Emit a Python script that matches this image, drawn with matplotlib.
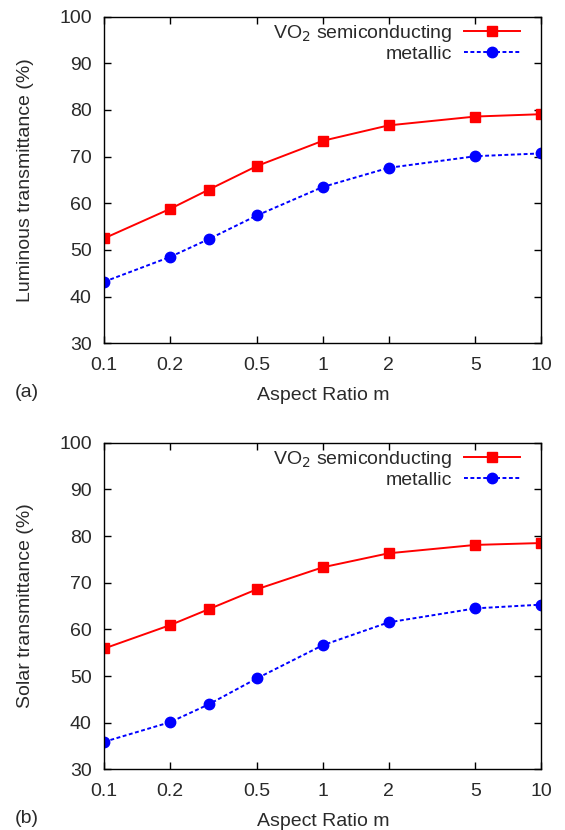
import numpy as np
import matplotlib.pyplot as plt

# datos
aspect_m = [0.1, 0.2, 0.3, 0.5, 1, 2, 5, 10]
lum_semi = [52.5, 58.8, 62.9, 68.0, 73.4, 76.7, 78.6, 79.1]
lum_metal = [43.2, 48.5, 52.3, 57.4, 63.5, 67.6, 70.1, 70.7]
sol_semi = [55.9, 60.9, 64.3, 68.6, 73.3, 76.3, 78.1, 78.5]
sol_metal = [35.9, 40.1, 43.9, 49.5, 56.6, 61.5, 64.5, 65.3]
xticks = [0.1, 0.2, 0.5, 1, 2, 5, 10]
xtick_labels = ['0.1', '0.2', '0.5', '1', '2', '5', '10']
yticks = [30, 40, 50, 60, 70, 80, 90, 100]

plt.rcParams['font.family'] = ['Liberation Sans', 'DejaVu Sans']
plt.rcParams['font.size'] = 14
txt_color = '#2a2a2a'

fig = plt.figure(figsize=(5.65, 8.3), dpi=100)

panels = [
    ([0.1845, 0.5864, 0.7735, 0.3935], lum_semi, lum_metal, 'Luminous transmittance (%)', '(a)'),
    ([0.1845, 0.0731, 0.7735, 0.3935], sol_semi, sol_metal, 'Solar transmittance (%)', '(b)'),
]

for rect, semi, metal, ylab, tag in panels:
    ax = fig.add_axes(rect)
    ax.plot(aspect_m, semi, color='#ff0000', lw=1.4, marker='s', ms=7.5,
            label='VO$_2$ semiconducting')
    ax.plot(aspect_m, metal, color='#0000ff', lw=1.4, ls=(0, (2, 1.3)), marker='o', ms=7.5,
            label='metallic')
    ax.set_xscale('log')
    ax.set_xlim(0.1, 10)
    ax.set_ylim(30, 100)
    ax.set_xticks(xticks)
    ax.set_xticklabels(xtick_labels)
    ax.minorticks_off()
    ax.set_yticks(yticks)
    ax.tick_params(direction='in', top=True, right=True, length=5, width=1,
                   labelcolor=txt_color)
    ax.tick_params(axis='x', pad=10)
    ax.tick_params(axis='y', pad=9)
    for sp in ax.spines.values():
        sp.set_linewidth(1.0)
    ax.set_xlabel('Aspect Ratio m', color=txt_color, labelpad=9)
    ax.set_ylabel(ylab, color=txt_color, labelpad=18)
    ax.text(-0.204, -0.152, tag, transform=ax.transAxes, color=txt_color,
            ha='left', va='center')
    leg = ax.legend(loc='upper right', frameon=False, markerfirst=False,
                    handlelength=2.9, handletextpad=0.6, labelspacing=0.1,
                    borderpad=0.3, borderaxespad=0.0, bbox_to_anchor=(0.965, 1.0))
    for t in leg.get_texts():
        t.set_color(txt_color)
        t.set_ha('right')

fig.savefig('out.png', dpi=100)
